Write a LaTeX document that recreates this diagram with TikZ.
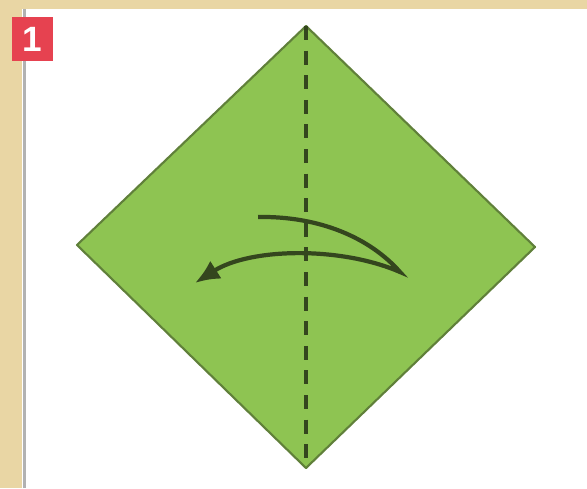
\documentclass[tikz,border=0pt]{standalone}
\usepackage{tikz}
\usepackage{fontspec}
\newfontfamily\stepfont{Liberation Sans}
\usetikzlibrary{arrows.meta}
\definecolor{paper}{RGB}{233,214,164}
\definecolor{leaf}{RGB}{142,196,82}
\definecolor{leafedge}{RGB}{96,128,58}
\definecolor{fold}{RGB}{52,70,30}
\definecolor{stepred}{RGB}{230,66,80}

\begin{document}
\begin{tikzpicture}[scale=1]
\useasboundingbox (0,0) rectangle (5.87,4.88);
\fill[white] (0,0) rectangle (5.87,4.88);
\fill[paper] (0,4.79) rectangle (5.87,4.88);
\fill[paper] (0,0) rectangle (0.22,4.88);
\draw[gray!60,line width=0.8pt] (0.245,0)--(0.245,4.79);
\node[fill=stepred,minimum width=0.41cm,minimum height=0.44cm,inner sep=0pt,
  text=white,font=\stepfont\bfseries] (num) at (0.325,4.49) {1};
\coordinate (top) at (3.06,4.62);
\coordinate (bot) at (3.06,0.20);
\coordinate (lft) at (0.77,2.43);
\coordinate (rgt) at (5.35,2.41);
\draw[leafedge,fill=leaf,line width=0.6pt,line join=round] (top)--(rgt)--(bot)--(lft)--cycle;
\draw[fold,line width=0.9pt,dash pattern=on 4pt off 3pt] (top)--(bot);
\coordinate (a) at (2.58,2.71);
\coordinate (b) at (4.00,2.16);
\coordinate (c) at (1.95,2.05);
\draw[fold,line width=1.2pt,-{Latex[length=7pt,width=6pt]}]
  (a) .. controls (3.20,2.72) and (3.70,2.50) .. (b)
      .. controls (3.40,2.42) and (2.50,2.40) .. (c);
\end{tikzpicture}
\end{document}
